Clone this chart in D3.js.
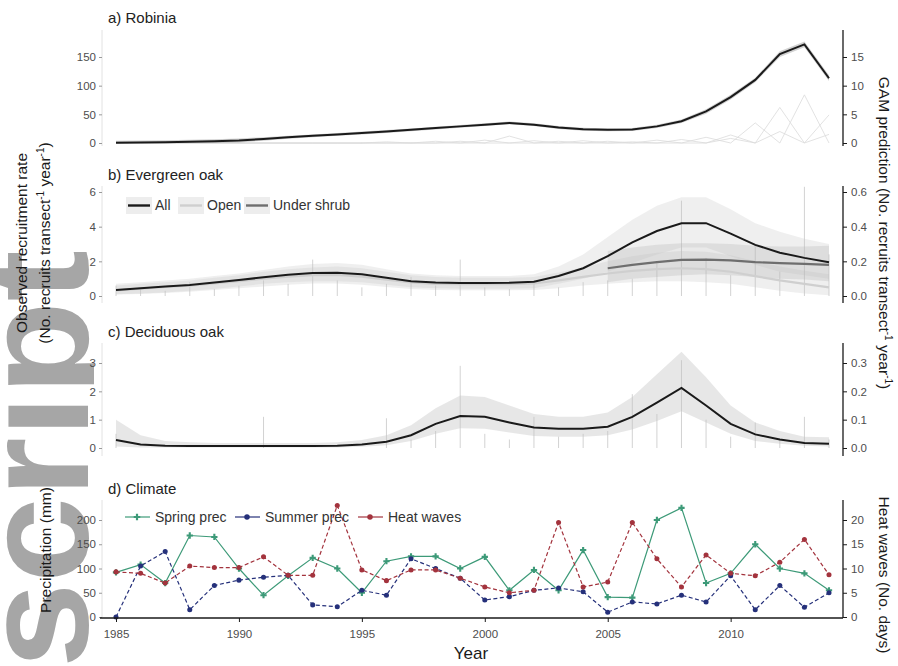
<!DOCTYPE html>
<html>
<head>
<meta charset="utf-8">
<script src="https://cdn.jsdelivr.net/npm/d3@7"></script>
<style>
body { margin: 0; background: #fff; }
text { font-family: "Liberation Sans", Arial, sans-serif; }
</style>
</head>
<body>
<svg id="chart" width="898" height="666"></svg>
<script>
// ---- data ----
var years = [1985,1986,1987,1988,1989,1990,1991,1992,1993,1994,1995,1996,1997,1998,1999,
             2000,2001,2002,2003,2004,2005,2006,2007,2008,2009,2010,2011,2012,2013,2014];
var yearTicks = [1985, 1990, 1995, 2000, 2005, 2010];

// a) Robinia: GAM prediction (right axis) and observed transects (left axis)
var gamA   = [0.05,0.1,0.15,0.2,0.3,0.45,0.7,1.0,1.25,1.5,1.75,2.0,2.3,2.6,2.9,3.2,3.5,3.2,2.7,2.4,2.3,2.35,2.9,3.8,5.5,8.0,11.0,15.5,17.2,11.3];
var gamAlo = [0,0,0,0,0,0.1,0.4,0.75,1.0,1.25,1.5,1.75,2.05,2.35,2.65,2.95,3.25,2.95,2.45,2.15,2.05,2.1,2.6,3.5,5.1,7.6,10.6,15.0,16.7,10.8];
var gamAhi = [0.4,0.45,0.5,0.55,0.65,0.8,1.0,1.25,1.5,1.75,2.0,2.25,2.55,2.85,3.15,3.45,3.75,3.45,2.95,2.65,2.55,2.6,3.2,4.1,5.9,8.4,11.4,16.0,17.7,11.8];
var obsA1 = [0,0,0,0,0,0,0,0,0,0,0,0,0,0,0,5,0,0,3,0,0,0,0,6,0,14,0,62,0,49];
var obsA2 = [0,0,0,0,0,0,0,0,0,0,0,0,0,0,3,0,12,0,0,4,0,2,0,0,10,0,35,0,84,0];
var obsA3 = [0,0,0,0,0,0,0,0,0,0,0,2,0,3,0,0,0,4,0,0,3,0,5,0,0,8,0,20,0,15];

// b) Evergreen oak
var gamAll   = [0.35,0.45,0.55,0.64,0.78,0.92,1.08,1.22,1.32,1.34,1.25,1.05,0.85,0.78,0.75,0.75,0.76,0.82,1.15,1.6,2.3,3.1,3.75,4.2,4.2,3.6,2.95,2.5,2.2,1.95];
var gamAllHi = [0.7,0.8,0.9,1.0,1.15,1.3,1.5,1.7,1.85,1.9,1.8,1.55,1.3,1.2,1.15,1.15,1.15,1.25,1.7,2.4,3.4,4.4,5.2,5.7,5.7,5.0,4.2,3.7,3.3,3.0];
var gamAllLo = [0.1,0.15,0.2,0.3,0.4,0.55,0.7,0.8,0.85,0.85,0.8,0.65,0.5,0.45,0.42,0.42,0.42,0.45,0.7,1.0,1.4,1.9,2.4,2.8,2.8,2.3,1.8,1.4,1.2,1.0];
var gamOpen   = [0.32,0.42,0.52,0.6,0.72,0.85,1.0,1.12,1.2,1.22,1.12,0.95,0.78,0.7,0.68,0.68,0.68,0.72,0.9,1.1,1.3,1.45,1.55,1.6,1.55,1.4,1.15,0.9,0.7,0.5];
var gamOpenHi = [0.6,0.7,0.8,0.9,1.05,1.2,1.4,1.55,1.65,1.7,1.6,1.4,1.2,1.1,1.05,1.05,1.05,1.1,1.35,1.65,2.0,2.3,2.5,2.6,2.55,2.35,2.0,1.7,1.45,1.25];
var gamOpenLo = [0.08,0.12,0.18,0.25,0.35,0.45,0.55,0.65,0.72,0.72,0.65,0.52,0.4,0.35,0.33,0.33,0.33,0.35,0.45,0.6,0.7,0.8,0.85,0.85,0.8,0.7,0.5,0.3,0.15,0.05];
var gamShrub   = [null,null,null,null,null,null,null,null,null,null,null,null,null,null,null,null,null,null,null,null,1.6,1.8,1.95,2.08,2.1,2.05,1.95,1.9,1.85,1.8];
var gamShrubHi = [null,null,null,null,null,null,null,null,null,null,null,null,null,null,null,null,null,null,null,null,2.6,2.8,2.95,3.05,3.05,3.0,2.9,2.85,2.85,2.9];
var gamShrubLo = [null,null,null,null,null,null,null,null,null,null,null,null,null,null,null,null,null,null,null,null,0.8,1.0,1.1,1.2,1.25,1.2,1.1,1.0,0.95,0.85];
var obsB = [0.6,0.5,0.3,0.8,0.4,0.6,0.9,0.7,2.1,0.9,0.5,0.7,1.1,0.6,2.1,0.5,0.4,0.9,0.5,0.8,0.9,1.0,2.0,5.5,2.2,1.2,3.0,1.4,6.3,2.4];

// c) Deciduous oak
var gamC   = [0.28,0.12,0.08,0.07,0.07,0.07,0.07,0.07,0.07,0.08,0.12,0.22,0.45,0.85,1.13,1.1,0.9,0.72,0.68,0.68,0.75,1.1,1.6,2.12,1.5,0.85,0.48,0.3,0.18,0.15];
var gamChi = [1.0,0.45,0.25,0.2,0.18,0.18,0.18,0.18,0.18,0.2,0.28,0.45,0.8,1.4,1.85,1.8,1.5,1.2,1.1,1.1,1.25,1.8,2.6,3.4,2.5,1.5,0.9,0.6,0.4,0.38];
var gamClo = [0.05,0.02,0.02,0.02,0.02,0.02,0.02,0.02,0.02,0.02,0.04,0.1,0.25,0.5,0.7,0.68,0.55,0.42,0.4,0.4,0.45,0.65,0.95,1.3,0.9,0.5,0.25,0.15,0.08,0.05];
var obsC = [0.5,0,0,0,0,0,1.1,0,0,0,0,1.05,0.3,0.6,2.9,0.5,0.3,1.1,0.4,0.5,0.6,1.9,1.2,3.1,1.0,0.4,0.9,0.3,1.1,0.3];

// d) Climate
var springPrec = [92,108,70,168,165,100,45,85,122,100,50,115,125,125,100,124,55,97,55,138,41,40,200,225,70,90,150,100,90,55];
var summerPrec = [0,105,135,15,65,76,82,86,25,21,55,45,120,100,80,35,42,55,60,52,10,31,27,45,31,85,15,65,20,50];
var heatWaves  = [9.3,9.0,7.0,10.5,10.2,10.2,12.4,8.6,8.6,23,9.7,7.5,9.7,9.7,8.0,6.2,5.0,5.5,19.5,6.2,7.2,19.5,12,6.2,12.8,9.0,8.5,11.3,16,8.7];

var ticksA = [0, 50, 100, 150], ticksAr = [0, 5, 10, 15];
var ticksB = [0, 2, 4, 6],      ticksBr = [0, 0.2, 0.4, 0.6];
var ticksC = [0, 1, 2, 3],      ticksCr = [0, 0.1, 0.2, 0.3];
var ticksD = [0, 50, 100, 150, 200], ticksDr = [0, 5, 10, 15, 20];

// ---- layout ----
var svg = d3.select('#chart');
var FONT = '"Liberation Sans", Arial, sans-serif';
var xL = 102, xR = 843;
var x = d3.scaleLinear().domain([1985, 2014]).range([116, 829]);

// faint watermark behind the figure
svg.append('clipPath').attr('id', 'wmclip')
  .append('rect').attr('x', 0).attr('y', 0).attr('width', 94).attr('height', 666);
svg.append('g').attr('clip-path', 'url(#wmclip)')
  .append('text')
  .attr('transform', 'translate(88,668) rotate(-90)')
  .attr('font-size', 150)
  .attr('font-weight', 'bold')
  .attr('fill', '#a6a6a6')
  .attr('textLength', 418)
  .attr('lengthAdjust', 'spacingAndGlyphs')
  .text('script');

var panels = {
  a: {top: 30, bottom: 146, yl: d3.scaleLinear().domain([0, 150]).range([143, 57]),
      yr: d3.scaleLinear().domain([0, 15]).range([143, 57]), tl: ticksA, tr: ticksAr, fr: d3.format('d')},
  b: {top: 186, bottom: 303, yl: d3.scaleLinear().domain([0, 6]).range([296, 192]),
      yr: d3.scaleLinear().domain([0, 0.6]).range([296, 192]), tl: ticksB, tr: ticksBr, fr: d3.format('.1f')},
  c: {top: 343, bottom: 456, yl: d3.scaleLinear().domain([0, 3]).range([448, 363]),
      yr: d3.scaleLinear().domain([0, 0.3]).range([448, 363]), tl: ticksC, tr: ticksCr, fr: d3.format('.1f')},
  d: {top: 500, bottom: 618, yl: d3.scaleLinear().domain([0, 200]).range([617, 520]),
      yr: d3.scaleLinear().domain([0, 20]).range([617, 520]), tl: ticksD, tr: ticksDr, fr: d3.format('d')}
};

function styleAxis(g, col) {
  g.attr('font-family', FONT);
  g.select('.domain').remove();
  g.selectAll('line').attr('stroke', col);
  g.selectAll('text').attr('fill', '#4d4d4d').style('font-size', '11.5px');
}

Object.keys(panels).forEach(function (k) {
  var p = panels[k];
  svg.append('line').attr('x1', xL).attr('x2', xL).attr('y1', p.top).attr('y2', p.bottom)
    .attr('stroke', '#dadada').attr('stroke-width', 0.8);
  svg.append('g').attr('transform', 'translate(' + xL + ',0)')
    .call(d3.axisLeft(p.yl).tickValues(p.tl).tickSize(3).tickPadding(3).tickFormat(d3.format('d')))
    .call(styleAxis, '#9a9a9a');
  svg.append('line').attr('x1', xR).attr('x2', xR).attr('y1', p.top).attr('y2', p.bottom)
    .attr('stroke', '#1a1a1a').attr('stroke-width', 1.3);
  svg.append('g').attr('transform', 'translate(' + xR + ',0)')
    .call(d3.axisRight(p.yr).tickValues(p.tr).tickSize(4).tickPadding(4).tickFormat(p.fr))
    .call(styleAxis, '#1a1a1a');
});

function lineOf(y, arr) {
  return d3.line().defined(function (d) { return d != null; })
    .x(function (d, i) { return x(years[i]); }).y(function (d) { return y(d); })(arr);
}
function bandOf(y, lo, hi) {
  return d3.area().defined(function (d, i) { return lo[i] != null; })
    .x(function (d, i) { return x(years[i]); })
    .y0(function (d, i) { return y(lo[i]); }).y1(function (d, i) { return y(hi[i]); })(years);
}
function spikes(y, arr) {
  svg.append('g').selectAll('line').data(arr).enter().append('line')
    .attr('x1', function (d, i) { return x(years[i]); })
    .attr('x2', function (d, i) { return x(years[i]); })
    .attr('y1', y(0)).attr('y2', function (d) { return y(d); })
    .attr('stroke', '#cdcdcd').attr('stroke-width', 0.9);
}
function title(txt, yy) {
  svg.append('text').attr('x', 108).attr('y', yy).attr('font-size', 15).attr('fill', '#222').text(txt);
}

// ---- a) Robinia ----
var pa = panels.a;
[obsA1, obsA2, obsA3].forEach(function (o) {
  svg.append('path').attr('d', lineOf(pa.yl, o)).attr('fill', 'none')
    .attr('stroke', '#dadada').attr('stroke-width', 0.8);
});
svg.append('path').attr('d', bandOf(pa.yr, gamAlo, gamAhi)).attr('fill', '#9a9a9a').attr('opacity', 0.45);
svg.append('path').attr('d', lineOf(pa.yr, gamA)).attr('fill', 'none')
  .attr('stroke', '#1a1a1a').attr('stroke-width', 2);
title('a) Robinia', 23);

// ---- b) Evergreen oak ----
var pb = panels.b;
spikes(pb.yl, obsB);
svg.append('path').attr('d', bandOf(pb.yl, gamAllLo, gamAllHi)).attr('fill', '#c4c4c4').attr('opacity', 0.28);
svg.append('path').attr('d', bandOf(pb.yl, gamOpenLo, gamOpenHi)).attr('fill', '#c4c4c4').attr('opacity', 0.28);
svg.append('path').attr('d', bandOf(pb.yl, gamShrubLo, gamShrubHi)).attr('fill', '#b0b0b0').attr('opacity', 0.28);
svg.append('path').attr('d', lineOf(pb.yl, gamOpen)).attr('fill', 'none')
  .attr('stroke', '#cfcfcf').attr('stroke-width', 2.2);
svg.append('path').attr('d', lineOf(pb.yl, gamShrub)).attr('fill', 'none')
  .attr('stroke', '#6e6e6e').attr('stroke-width', 2.2);
svg.append('path').attr('d', lineOf(pb.yl, gamAll)).attr('fill', 'none')
  .attr('stroke', '#1a1a1a').attr('stroke-width', 2);
title('b) Evergreen oak', 180);

var legB = [
  {name: 'All', col: '#1a1a1a', x: 126},
  {name: 'Open', col: '#cfcfcf', x: 178},
  {name: 'Under shrub', col: '#6e6e6e', x: 244}
];
legB.forEach(function (l) {
  svg.append('rect').attr('x', l.x).attr('y', 197).attr('width', 26).attr('height', 17).attr('fill', '#ededed');
  svg.append('line').attr('x1', l.x + 2).attr('x2', l.x + 24).attr('y1', 205.5).attr('y2', 205.5)
    .attr('stroke', l.col).attr('stroke-width', 2.4);
  svg.append('text').attr('x', l.x + 29).attr('y', 210).attr('font-size', 14).attr('fill', '#333').text(l.name);
});

// ---- c) Deciduous oak ----
var pc = panels.c;
spikes(pc.yl, obsC);
svg.append('path').attr('d', bandOf(pc.yl, gamClo, gamChi)).attr('fill', '#c4c4c4').attr('opacity', 0.4);
svg.append('path').attr('d', lineOf(pc.yl, gamC)).attr('fill', 'none')
  .attr('stroke', '#1a1a1a').attr('stroke-width', 2);
title('c) Deciduous oak', 337);

// ---- d) Climate ----
var pd = panels.d;
var series = [
  {name: 'Spring prec', vals: springPrec, y: pd.yl, col: '#3d9a78', dash: null, sym: d3.symbolCross},
  {name: 'Summer prec', vals: summerPrec, y: pd.yl, col: '#25307a', dash: '4,2.5', sym: d3.symbolCircle},
  {name: 'Heat waves', vals: heatWaves, y: pd.yr, col: '#a3333d', dash: '4,2.5', sym: d3.symbolCircle}
];
series.forEach(function (s) {
  svg.append('path').attr('d', lineOf(s.y, s.vals)).attr('fill', 'none')
    .attr('stroke', s.col).attr('stroke-width', 1.2).attr('stroke-dasharray', s.dash);
  svg.append('g').selectAll('path').data(s.vals).enter().append('path')
    .attr('d', d3.symbol().type(s.sym).size(s.sym === d3.symbolCross ? 22 : 20))
    .attr('transform', function (d, i) { return 'translate(' + x(years[i]) + ',' + s.y(d) + ')'; })
    .attr('fill', s.col);
});
title('d) Climate', 494);

var legD = [128, 238, 361];
series.forEach(function (s, i) {
  var lx = legD[i];
  svg.append('line').attr('x1', lx - 3).attr('x2', lx + 22).attr('y1', 517).attr('y2', 517)
    .attr('stroke', s.col).attr('stroke-width', 1.2);
  svg.append('path').attr('d', d3.symbol().type(s.sym).size(24)())
    .attr('transform', 'translate(' + (lx + 9) + ',517)').attr('fill', s.col);
  svg.append('text').attr('x', lx + 27).attr('y', 522).attr('font-size', 14).attr('fill', '#333').text(s.name);
});

// bottom axis
svg.append('line').attr('x1', 100).attr('x2', xR).attr('y1', 618).attr('y2', 618)
  .attr('stroke', '#1a1a1a').attr('stroke-width', 1.3);
svg.append('g').attr('transform', 'translate(0,618)')
  .call(d3.axisBottom(x).tickValues(yearTicks).tickSize(4).tickPadding(8).tickFormat(d3.format('d')))
  .call(styleAxis, '#1a1a1a');

// ---- axis titles ----
var TS = 15.5;
svg.append('text').attr('transform', 'translate(27,243) rotate(-90)').attr('text-anchor', 'middle')
  .attr('font-size', TS).attr('fill', '#1a1a1a').text('Observed recruitment rate');
var t2 = svg.append('text').attr('transform', 'translate(50,243) rotate(-90)').attr('text-anchor', 'middle')
  .attr('font-size', TS).attr('fill', '#1a1a1a');
t2.append('tspan').text('(No. recruits transect');
t2.append('tspan').attr('dy', -6).attr('font-size', 10).text('-1');
t2.append('tspan').attr('dy', 6).text(' year');
t2.append('tspan').attr('dy', -6).attr('font-size', 10).text('-1');
t2.append('tspan').attr('dy', 6).text(')');

svg.append('text').attr('transform', 'translate(51,550) rotate(-90)').attr('text-anchor', 'middle')
  .attr('font-size', TS).attr('fill', '#1a1a1a').text('Precipitation (mm)');

var t3 = svg.append('text').attr('transform', 'translate(879,233) rotate(90)').attr('text-anchor', 'middle')
  .attr('font-size', TS).attr('fill', '#1a1a1a');
t3.append('tspan').text('GAM prediction (No. recruits transect');
t3.append('tspan').attr('dy', -6).attr('font-size', 10).text('-1');
t3.append('tspan').attr('dy', 6).text(' year');
t3.append('tspan').attr('dy', -6).attr('font-size', 10).text('-1');
t3.append('tspan').attr('dy', 6).text(')');

svg.append('text').attr('transform', 'translate(879,575) rotate(90)').attr('text-anchor', 'middle')
  .attr('font-size', TS).attr('fill', '#1a1a1a').text('Heat waves (No. days)');

svg.append('text').attr('x', 471).attr('y', 659).attr('text-anchor', 'middle')
  .attr('font-size', 17).attr('fill', '#1a1a1a').text('Year');
</script>
</body>
</html>
